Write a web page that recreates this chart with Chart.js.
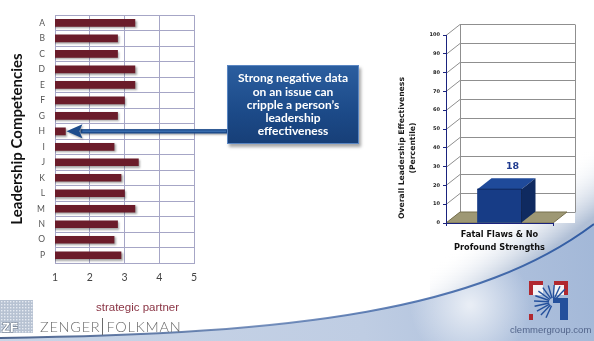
<!DOCTYPE html>
<html>
<head>
<meta charset="utf-8">
<script src="https://cdn.jsdelivr.net/npm/chart.js@4/dist/chart.umd.min.js"></script>
<style>
  html, body { margin: 0; padding: 0; background: #fff; }
  body { width: 594px; height: 341px; position: relative; overflow: hidden; font-family: Lato, sans-serif; }
  canvas { position: absolute; top: 0; }
  #bg { left: 0; }
  #competencyChart { left: 0; }
  #effectChart { left: 380px; }
  .callout {
    position: absolute; left: 227px; top: 65px; width: 132px; height: 79px;
    box-sizing: border-box;
    background: linear-gradient(#2b5e9f, #1c4a88 60%, #173f78);
    border: 1px solid #5a86c2;
    box-shadow: 2px 3px 3px rgba(0,0,0,0.35);
    color: #fff; font: bold 12px/13.2px Lato, sans-serif; text-align: center;
    display: flex; align-items: center; justify-content: center;
  }
  .partner { position: absolute; left: 96px; top: 301px; font: 11.5px "Liberation Sans", Arial, sans-serif; color: #8a3444; }
  .zf { position: absolute; left: 40px; top: 318px; font: 300 14.5px Lato, sans-serif; color: #6a6a6a; letter-spacing: 0.75px; white-space: nowrap; }
  .zf .sep { display: inline-block; width: 0; height: 17px; border-left: 1px solid #6a6a6a; margin: 0 3px -3px 2px; }
  .clemmer { position: absolute; left: 510px; top: 324px; font: 9.5px "Liberation Sans", Arial, sans-serif; color: #52648a; }
</style>
</head>
<body>
<canvas id="bg" width="594" height="341"></canvas>
<canvas id="competencyChart" width="380" height="290"></canvas>
<canvas id="effectChart" width="214" height="260"></canvas>
<div class="callout">Strong negative data<br>on an issue can<br>cripple a person’s<br>leadership<br>effectiveness</div>
<div class="partner">strategic partner</div>
<div class="zf">ZENGER<span class="sep"></span>FOLKMAN</div>
<div class="clemmer">clemmergroup.com</div>
<script>
// ---- data ----
const competencies = ['A','B','C','D','E','F','G','H','I','J','K','L','M','N','O','P'];
const competencyScores = [3.3, 2.8, 2.8, 3.3, 3.3, 3.0, 2.8, 1.3, 2.7, 3.4, 2.9, 3.0, 3.3, 2.8, 2.7, 2.9];
const scoreTicks = [1, 2, 3, 4, 5];
const flaggedCompetency = 'H';

const profileLabels = [['Fatal Flaws & No', 'Profound Strengths']];
const effectivenessPercentile = [18];
const percentileTicks = [0, 10, 20, 30, 40, 50, 60, 70, 80, 90, 100];
const effectivenessTitle = ['Overall Leadership Effectiveness', '(Percentile)'];

// ---- page backdrop: swoosh and logos ----
(function drawBackdrop() {
  const c = document.getElementById('bg').getContext('2d');
  const edge = () => {
    c.moveTo(0, 338);
    c.bezierCurveTo(300, 334, 480, 310, 594, 224);
  };

  // soft grey-blue glow above the right end of the curve
  c.save();
  c.beginPath();
  edge();
  c.lineTo(594, 0);
  c.lineTo(430, 0);
  c.closePath();
  c.clip();
  const glow = c.createLinearGradient(540, 258, 505, 212);
  glow.addColorStop(0, 'rgba(150,170,200,0.75)');
  glow.addColorStop(1, 'rgba(255,255,255,0)');
  c.fillStyle = glow;
  c.fillRect(430, 150, 164, 191);
  c.restore();

  // blue swoosh along the bottom
  c.save();
  c.beginPath();
  edge();
  c.lineTo(594, 341);
  c.lineTo(0, 341);
  c.closePath();
  const g = c.createLinearGradient(0, 341, 594, 250);
  g.addColorStop(0, '#c9d5e7');
  g.addColorStop(0.6, '#bfcde3');
  g.addColorStop(1, '#a3b8d8');
  c.fillStyle = g;
  c.fill();
  c.clip();
  const sh = c.createRadialGradient(470, 305, 2, 470, 305, 60);
  sh.addColorStop(0, 'rgba(255,255,255,0.7)');
  sh.addColorStop(1, 'rgba(255,255,255,0)');
  c.fillStyle = sh;
  c.fillRect(380, 220, 170, 121);
  c.restore();

  // edge line
  c.save();
  c.beginPath();
  edge();
  const eg = c.createLinearGradient(0, 0, 594, 0);
  eg.addColorStop(0, 'rgba(60,85,130,0.9)');
  eg.addColorStop(0.45, 'rgba(70,105,165,0.7)');
  eg.addColorStop(1, 'rgba(40,85,160,0.95)');
  c.strokeStyle = eg;
  c.lineWidth = 2;
  c.stroke();
  c.restore();

  // ZF square mark
  c.fillStyle = '#b7c2d2';
  c.fillRect(0, 300, 33, 33);
  c.fillStyle = '#e6ebf2';
  for (let x = 1; x < 33; x += 3) {
    for (let y = 301; y < 333; y += 3) c.fillRect(x, y, 1.4, 1.4);
  }
  c.font = 'bold 13px "Liberation Sans", sans-serif';
  c.lineWidth = 1.2;
  c.strokeStyle = '#6f7b8c';
  c.strokeText('ZF', 2, 332);
  c.fillStyle = '#ffffff';
  c.fillText('ZF', 2, 332);

  // Clemmer mark: red corners and blue fan
  c.fillStyle = '#b0282f';
  c.fillRect(529, 281, 14, 14);
  c.fillRect(554, 281, 14, 14);
  c.fillRect(529, 314, 4, 6);
  c.fillStyle = '#f4f4f6';
  c.fillRect(533, 285, 10, 10);
  c.fillRect(554, 285, 10, 10);
  c.strokeStyle = '#24509c';
  c.lineWidth = 1.4;
  const cx = 553, cy = 302;
  for (let i = 0; i < 12; i++) {
    const a = Math.PI * 0.62 + i * Math.PI * 0.1;
    c.beginPath();
    c.moveTo(cx + Math.cos(a) * 4, cy + Math.sin(a) * 4);
    c.lineTo(cx + Math.cos(a) * 19, cy + Math.sin(a) * 17);
    c.stroke();
  }
  c.fillStyle = '#24509c';
  c.fillRect(553, 298, 15, 5);
  c.fillRect(560, 298, 8, 22);
})();

// ---- left chart: competency scores ----
const barShadow = {
  id: 'barShadow',
  beforeDatasetsDraw(chart) {
    const ctx = chart.ctx;
    ctx.save();
    ctx.shadowColor = 'rgba(0,0,0,0.35)';
    ctx.shadowBlur = 2;
    ctx.shadowOffsetX = 1.5;
    ctx.shadowOffsetY = 1.5;
  },
  afterDatasetsDraw(chart) { chart.ctx.restore(); }
};

// arrow from the callout to the flagged competency bar
const calloutArrow = {
  id: 'calloutArrow',
  afterDraw(chart) {
    const ctx = chart.ctx;
    const idx = competencies.indexOf(flaggedCompetency);
    const bar = chart.getDatasetMeta(0).data[idx];
    const tipX = bar.x + 1, y = bar.y;
    const tailX = 227;
    const headLen = 16, headHalf = 7;
    ctx.save();
    ctx.shadowColor = 'rgba(0,0,0,0.3)';
    ctx.shadowBlur = 2;
    ctx.shadowOffsetX = 1;
    ctx.shadowOffsetY = 1.5;
    // shaft
    ctx.fillStyle = '#1d4c8c';
    ctx.fillRect(tipX + headLen - 2, y - 2.2, tailX - tipX - headLen + 2, 4.4);
    // head
    ctx.beginPath();
    ctx.moveTo(tipX, y);
    ctx.lineTo(tipX + headLen, y - headHalf);
    ctx.lineTo(tipX + headLen - 3, y);
    ctx.lineTo(tipX + headLen, y + headHalf);
    ctx.closePath();
    ctx.fill();
    ctx.restore();
    ctx.save();
    ctx.fillStyle = '#3b6fb0';
    ctx.fillRect(tipX + headLen, y - 0.8, tailX - tipX - headLen - 1, 1.4);
    ctx.restore();
  }
};

const gridColor = '#a6a6c6';
new Chart(document.getElementById('competencyChart'), {
  type: 'bar',
  data: {
    labels: competencies,
    datasets: [{
      data: competencyScores,
      backgroundColor: '#6b1c2a',
      barThickness: 7,
      borderWidth: 0
    }]
  },
  options: {
    indexAxis: 'y',
    responsive: false,
    animation: false,
    events: [],
    layout: { padding: { top: 4, right: 186, bottom: 0, left: 0 } },
    plugins: { legend: { display: false }, tooltip: { enabled: false } },
    scales: {
      x: {
        type: 'linear',
        min: 1,
        max: 5,
        afterBuildTicks: s => { s.ticks = scoreTicks.map(v => ({ value: v })); },
        afterFit: s => { s.height = 27; },
        grid: { color: gridColor, drawTicks: false },
        border: { color: gridColor },
        ticks: { padding: 8, color: '#444', font: { family: 'Lato', size: 10.5 } }
      },
      y: {
        afterFit: s => { s.width = 55; },
        grid: { color: gridColor, drawTicks: false, offset: true },
        border: { color: gridColor },
        ticks: { padding: 10, color: '#555', font: { family: 'Lato', size: 8.5 } },
        title: {
          display: true,
          text: 'Leadership Competencies',
          color: '#111',
          padding: { top: 8, bottom: 0 },
          font: { family: 'Lato', size: 15, weight: 'bold', lineHeight: 1.2 }
        }
      }
    }
  },
  plugins: [barShadow, calloutArrow]
});

// ---- right chart: 3D percentile bar ----
const DX = 14, DY = 11;
const navy = '#1a237e';

const walls3d = {
  id: 'walls3d',
  beforeDraw(chart) {
    const { ctx, chartArea: { left, right, top, bottom }, scales: { y } } = chart;
    const backRight = right + 22;
    ctx.save();
    ctx.fillStyle = '#ffffff';
    ctx.fillRect(left, top - DY, backRight - left, bottom - top + DY);
    ctx.strokeStyle = '#8f8f8f';
    ctx.lineWidth = 1;
    y.ticks.forEach(t => {
      const py = Math.round(y.getPixelForValue(t.value)) + 0.5;
      ctx.beginPath();
      ctx.moveTo(left, py);
      ctx.lineTo(left + DX, py - DY);
      ctx.lineTo(backRight, py - DY);
      ctx.stroke();
    });
    const yTop = Math.round(y.getPixelForValue(100)) + 0.5 - DY;
    const yBot = Math.round(y.getPixelForValue(0)) + 0.5 - DY;
    ctx.beginPath();
    ctx.moveTo(left + DX + 0.5, yTop); ctx.lineTo(left + DX + 0.5, yBot);
    ctx.moveTo(backRight + 0.5, yTop); ctx.lineTo(backRight + 0.5, yBot);
    ctx.stroke();
    // floor
    const fb = Math.round(bottom);
    ctx.beginPath();
    ctx.moveTo(left, fb);
    ctx.lineTo(right, fb);
    ctx.lineTo(right + DX, fb - DY);
    ctx.lineTo(left + DX, fb - DY);
    ctx.closePath();
    ctx.fillStyle = '#9e9874';
    ctx.fill();
    ctx.strokeStyle = '#77714f';
    ctx.stroke();
    ctx.restore();
  }
};

const barFaces3d = {
  id: 'barFaces3d',
  afterDatasetsDraw(chart) {
    const ctx = chart.ctx;
    const meta = chart.getDatasetMeta(0);
    meta.data.forEach((bar, i) => {
      const { x, y, base, width } = bar.getProps(['x', 'y', 'base', 'width'], true);
      const l = x - width / 2, r = x + width / 2;
      ctx.save();
      // top face
      ctx.beginPath();
      ctx.moveTo(l, y); ctx.lineTo(r, y); ctx.lineTo(r + DX, y - DY); ctx.lineTo(l + DX, y - DY);
      ctx.closePath();
      ctx.fillStyle = '#1f4a9a';
      ctx.fill();
      // side face
      ctx.beginPath();
      ctx.moveTo(r, y); ctx.lineTo(r + DX, y - DY); ctx.lineTo(r + DX, base - DY); ctx.lineTo(r, base);
      ctx.closePath();
      ctx.fillStyle = '#0f2a60';
      ctx.fill();
      ctx.strokeStyle = 'rgba(8,24,60,0.8)';
      ctx.lineWidth = 0.8;
      ctx.beginPath();
      ctx.moveTo(l, y); ctx.lineTo(r, y); ctx.lineTo(r, base);
      ctx.stroke();
      // value label
      ctx.fillStyle = '#1f3a8f';
      ctx.font = 'bold 9.5px "DejaVu Sans", sans-serif';
      ctx.textAlign = 'center';
      ctx.textBaseline = 'middle';
      ctx.fillText(String(effectivenessPercentile[i]), x + DX - 1, y - DY - 12);
      ctx.restore();
    });
  }
};

const sideTitle = {
  id: 'sideTitle',
  afterDraw(chart) {
    const ctx = chart.ctx;
    ctx.save();
    ctx.translate(21.7, 148);
    ctx.rotate(-Math.PI / 2);
    ctx.textAlign = 'center';
    ctx.textBaseline = 'middle';
    ctx.fillStyle = '#1a1a1a';
    ctx.font = 'bold 7.7px "DejaVu Sans", sans-serif';
    effectivenessTitle.forEach((line, k) => ctx.fillText(line, 0, k * 11.3));
    ctx.restore();
  }
};

new Chart(document.getElementById('effectChart'), {
  type: 'bar',
  data: {
    labels: profileLabels,
    datasets: [{
      data: effectivenessPercentile,
      backgroundColor: '#173c86',
      barThickness: 44,
      borderWidth: 0
    }]
  },
  options: {
    responsive: false,
    animation: false,
    events: [],
    layout: { padding: { top: 35, right: 41, bottom: 0, left: 0 } },
    plugins: { legend: { display: false }, tooltip: { enabled: false } },
    scales: {
      x: {
        afterFit: s => { s.height = 37; },
        grid: { drawOnChartArea: false, drawTicks: true, tickLength: 3, color: navy, offset: true },
        border: { color: navy },
        ticks: { padding: 2.5, color: '#111', font: { family: 'DejaVu Sans', size: 8.2, weight: 'bold', lineHeight: 1.58 } }
      },
      y: {
        min: 0,
        max: 100,
        afterBuildTicks: s => { s.ticks = percentileTicks.map(v => ({ value: v })); },
        afterFit: s => { s.width = 66; },
        grid: { drawOnChartArea: false, drawTicks: true, tickLength: 3, color: navy },
        border: { color: navy },
        ticks: { padding: 3, color: '#222', font: { family: 'DejaVu Sans', size: 5, weight: 'bold' } }
      }
    }
  },
  plugins: [walls3d, barFaces3d, sideTitle]
});
</script>
</body>
</html>
